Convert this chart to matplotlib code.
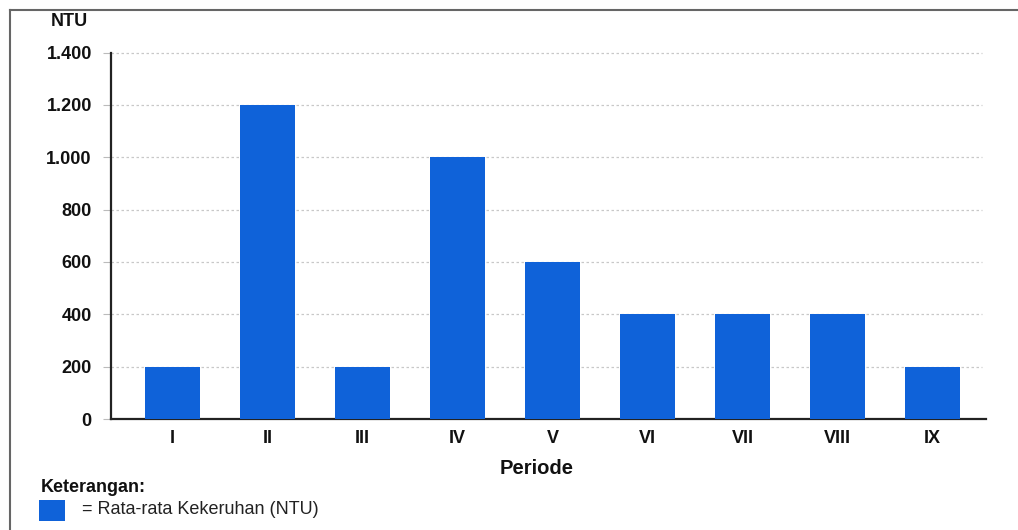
import matplotlib
matplotlib.use("Agg")
import matplotlib.pyplot as plt
from matplotlib.patches import Rectangle
from matplotlib.lines import Line2D

plt.rcParams['font.family'] = ['Liberation Sans', 'DejaVu Sans']

periods = ["I", "II", "III", "IV", "V", "VI", "VII", "VIII", "IX"]
turbidity = [200, 1200, 200, 1000, 600, 400, 400, 400, 200]
y_ticks = [0, 200, 400, 600, 800, 1000, 1200, 1400]
y_tick_labels = ["0", "200", "400", "600", "800", "1.000", "1.200", "1.400"]

W, H = 1018, 530
fig = plt.figure(figsize=(W / 100, H / 100), dpi=100)
fig.patch.set_facecolor("white")

# axes box in pixel coordinates
left, right, top, bottom = 111, 986, 52.5, 419
ax = fig.add_axes([left / W, 1 - bottom / H, (right - left) / W, (bottom - top) / H])

bar_color = "#0f62d9"
x = range(len(periods))
ax.bar(x, turbidity, width=0.58, color=bar_color, zorder=3)

ax.set_xlim(-0.647, 8.563)
ax.set_ylim(0, 1400)
ax.set_yticks(y_ticks)
ax.set_yticklabels(y_tick_labels, fontsize=13, fontweight="bold", color="#111111")
ax.set_xticks(list(x))
ax.set_xticklabels(periods, fontsize=13, fontweight="bold", color="#111111")

for v in y_ticks[1:]:
    ax.plot([-0.647, 8.52], [v, v], ls=(0, (2, 2)), color="#c8c8c8", lw=0.9, zorder=1,
            clip_on=False)

ax.tick_params(axis="y", length=5.8, width=0.8, color="#bbbbbb", pad=8)
ax.tick_params(axis="x", length=0, pad=8)

for s in ["top", "right"]:
    ax.spines[s].set_visible(False)
ax.spines["left"].set_linewidth(1.6)
ax.spines["bottom"].set_linewidth(1.6)
ax.spines["left"].set_color("#222222")
ax.spines["bottom"].set_color("#222222")

# texts and frame in figure pixel coordinates
def fx(px):
    return px / W

def fy(py):
    return 1 - py / H

fig.text(fx(537), fy(468), "Periode", fontsize=14.5, fontweight="bold", ha="center",
         va="center", color="#111111")
fig.text(fx(69), fy(22), "NTU", fontsize=13, fontweight="bold", ha="center", va="center",
         color="#111111")
fig.text(fx(41), fy(488), "Keterangan:", fontsize=13, fontweight="bold", ha="left",
         va="center", color="#111111")
fig.patches.append(Rectangle((fx(39), fy(521)), fx(26), 21 / H, transform=fig.transFigure,
                             facecolor=bar_color, edgecolor="none"))
fig.text(fx(82), fy(510), "= Rata-rata Kekeruhan (NTU)", fontsize=13, ha="left",
         va="center", color="#222222")

fig.lines.append(Line2D([fx(10), fx(1017)], [fy(10), fy(10)], transform=fig.transFigure,
                        color="#666666", lw=1.5))
fig.lines.append(Line2D([fx(10), fx(10)], [fy(10), fy(530)], transform=fig.transFigure,
                        color="#666666", lw=1.5))

fig.savefig("out.png", dpi=100)
